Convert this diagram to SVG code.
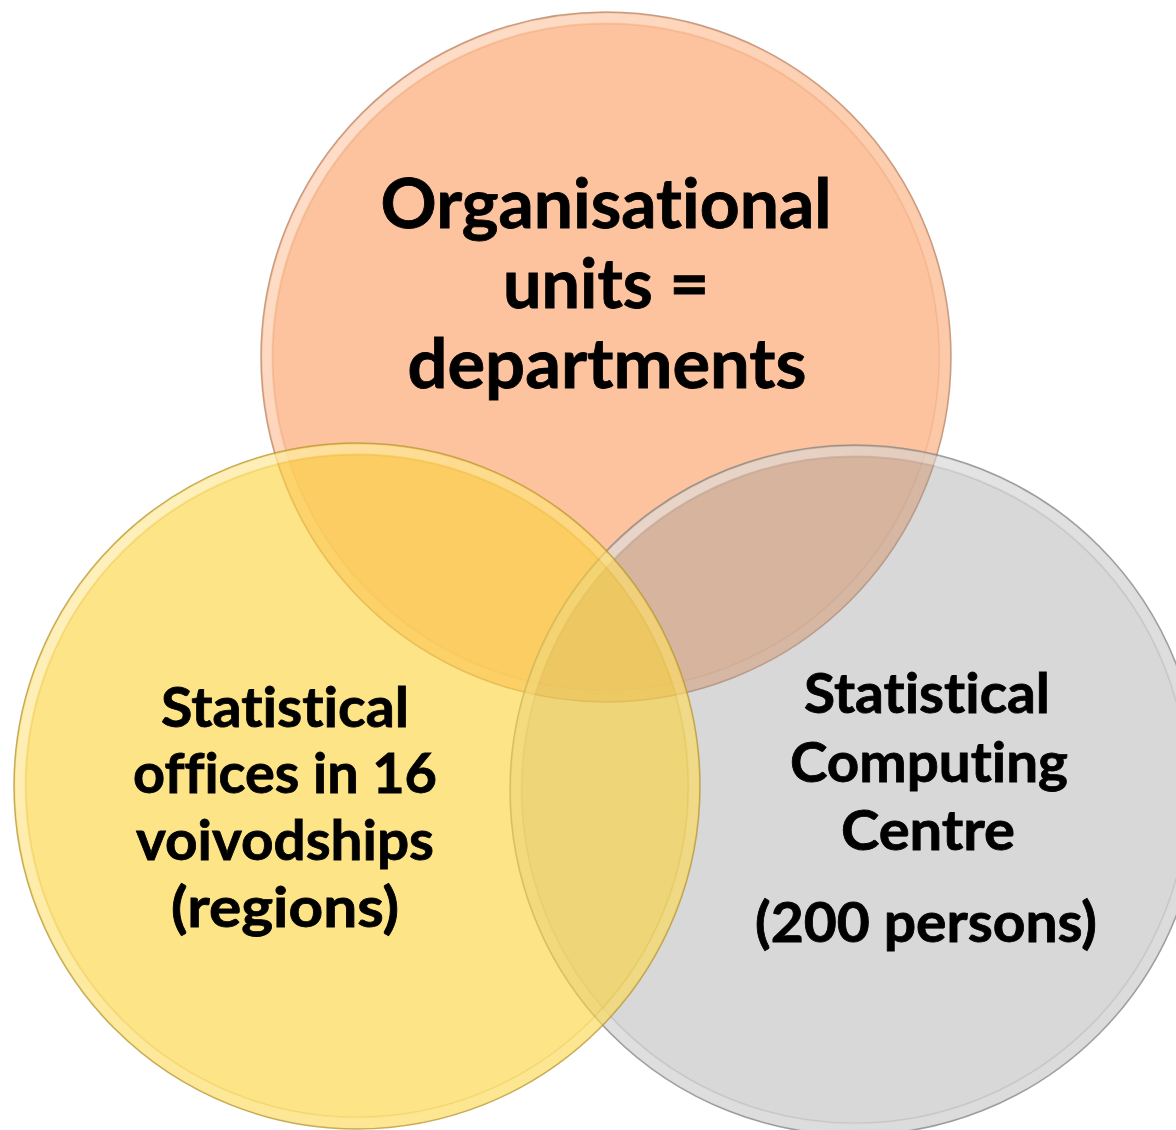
<svg xmlns="http://www.w3.org/2000/svg" width="1176" height="1130" viewBox="0 0 1176 1130">
  <style>
    .lbl { font-family: Lato, "Open Sans", "Liberation Sans", sans-serif; font-weight: 700; fill: #000; stroke: #000; stroke-width: 0.8; text-anchor: middle; font-variant-ligatures: none; font-feature-settings: "liga" 0, "clig" 0; }
    .big { font-size: 68px; }
    .mid { font-size: 55px; }
    .ring { fill: none; stroke: url(#hl); stroke-width: 9; }
    .inner { fill: none; stroke-width: 1.2; }
  </style>
  <defs>
    <linearGradient id="hl" x1="0" y1="0" x2="1" y2="1">
      <stop offset="0" stop-color="#ffffff" stop-opacity="0.55"/>
      <stop offset="0.5" stop-color="#ffffff" stop-opacity="0.18"/>
      <stop offset="1" stop-color="#ffffff" stop-opacity="0.05"/>
    </linearGradient>
  </defs>
  <rect width="1176" height="1130" fill="#ffffff"/>

  <g id="node-organisational">
    <circle cx="606" cy="357" r="345" fill="#FCC39E" stroke="#B98A6E" stroke-width="1.5" stroke-opacity="0.8"/>
    <circle class="ring" cx="606" cy="357" r="339"/>
    <circle class="inner" cx="606" cy="357" r="333" stroke="#D99B74" stroke-opacity="0.3"/>
    <text class="lbl big" x="606" y="228" textLength="451" lengthAdjust="spacingAndGlyphs">Organisational</text>
    <text class="lbl big" x="606" y="308" textLength="206" lengthAdjust="spacingAndGlyphs">units =</text>
    <text class="lbl big" x="607" y="388" textLength="399" lengthAdjust="spacingAndGlyphs">departments</text>
  </g>

  <g id="node-computing">
    <circle cx="855" cy="790" r="345" fill="#9D9D9D" fill-opacity="0.4" stroke="#8A8A8A" stroke-width="1.5" stroke-opacity="0.8"/>
    <circle class="ring" cx="855" cy="790" r="339"/>
    <circle class="inner" cx="855" cy="790" r="333" stroke="#9A9A9A" stroke-opacity="0.3"/>
    <text class="lbl mid" x="927" y="713" textLength="246" lengthAdjust="spacingAndGlyphs">Statistical</text>
    <text class="lbl mid" x="929" y="782" textLength="278" lengthAdjust="spacingAndGlyphs">Computing</text>
    <text class="lbl mid" x="928" y="850" textLength="174" lengthAdjust="spacingAndGlyphs">Centre</text>
    <text class="lbl mid" x="926" y="942" textLength="342" lengthAdjust="spacingAndGlyphs">(200 persons)</text>
  </g>

  <g id="node-regional">
    <circle cx="357" cy="786" r="343" fill="#FCD33D" fill-opacity="0.62" stroke="#B89A3C" stroke-width="1.5" stroke-opacity="0.8"/>
    <circle class="ring" cx="357" cy="786" r="337"/>
    <circle class="inner" cx="357" cy="786" r="331" stroke="#D6B447" stroke-opacity="0.3"/>
    <text class="lbl mid" x="285" y="727" textLength="248" lengthAdjust="spacingAndGlyphs">Statistical</text>
    <text class="lbl mid" x="285" y="793" textLength="304" lengthAdjust="spacingAndGlyphs">offices in 16</text>
    <text class="lbl mid" x="285" y="860" textLength="298" lengthAdjust="spacingAndGlyphs">voivodships</text>
    <text class="lbl mid" x="285" y="927" textLength="228" lengthAdjust="spacingAndGlyphs">(regions)</text>
  </g>

  <g id="connectors"></g>
</svg>
